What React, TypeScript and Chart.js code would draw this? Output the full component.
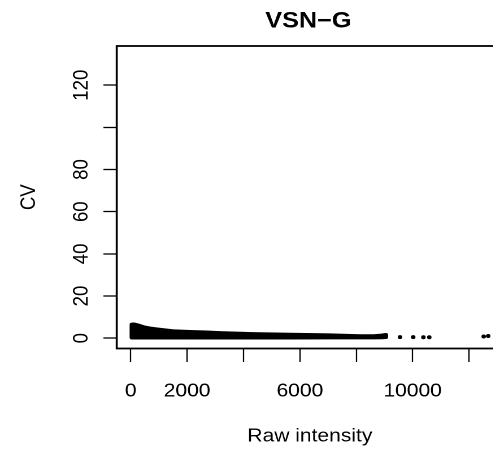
import React, { useEffect, useRef } from 'react';
import { Chart, registerables } from 'chart.js';

Chart.register(...registerables);

// ---------- text ----------
const TITLE = 'VSN−G';
const X_LABEL = 'Raw intensity';
const Y_LABEL = 'CV';

// ---------- axes ----------
const xTicks = [0, 2000, 4000, 6000, 8000, 10000, 12000];
const xTickLabels = ['0', '2000', '', '6000', '', '10000', ''];
const yTicks = [0, 20, 40, 60, 80, 100, 120];
const yTickLabels = ['0', '20', '40', '60', '80', '', '120'];
const xRange = [-497, 13205];
const yRange = [-4.9, 138.6];

// ---------- data ----------
// dense cloud of points: upper and lower envelope of the band
const bandIntensity = [40, 110, 320, 500, 675, 900, 1210, 1560, 2100, 2700, 3160, 4330, 5650, 7070, 8130, 8660, 8900, 9050];
const bandUpperCV = [6.4, 6.5, 5.8, 5.0, 4.6, 4.2, 3.7, 3.2, 2.95, 2.7, 2.4, 1.9, 1.6, 1.3, 0.9, 1.0, 1.2, 1.5];
const bandLowerCV = [0.3, 0.3, 0.3, 0.3, 0.3, 0.3, 0.3, 0.3, 0.3, 0.3, 0.3, 0.3, 0.3, 0.35, 0.35, 0.4, 0.45, 0.55];
// isolated points at high intensity
const sparseIntensity = [9550, 10020, 10380, 10590, 12520, 12680];
const sparseCV = [0.5, 0.5, 0.45, 0.45, 0.8, 1.05];

// ---------- layout ----------
const STRETCH = 1.13; // horizontal aspect of the reference
const CW = 460;
const CH = 454;
const FONT = '"Liberation Sans", Arial, Helvetica, sans-serif';
const FS = 18.6;

const rBasePlugin = {
  id: 'rBase',
  afterDraw(chart: any) {
    const { ctx, chartArea: a } = chart;
    const xs = chart.scales.x;
    const ys = chart.scales.y;
    const cx = (a.left + a.right) / 2;
    const cy = (a.top + a.bottom) / 2;
    ctx.save();
    ctx.strokeStyle = '#000';
    ctx.lineWidth = 1.8;
    ctx.strokeRect(a.left, a.top, a.right - a.left, a.bottom - a.top);

    ctx.fillStyle = '#000';
    ctx.textAlign = 'center';
    ctx.textBaseline = 'alphabetic';
    ctx.font = `${FS}px ${FONT}`;
    xTicks.forEach((v, i) => {
      const t = xTickLabels[i];
      if (t) ctx.fillText(t, xs.getPixelForValue(v), a.bottom + 48.2);
    });
    yTicks.forEach((v, i) => {
      const t = yTickLabels[i];
      if (!t) return;
      ctx.save();
      ctx.translate(a.left - 25.9, ys.getPixelForValue(v));
      ctx.rotate(-Math.PI / 2);
      ctx.fillText(t, 0, 0);
      ctx.restore();
    });
    ctx.fillText(X_LABEL, cx, a.bottom + 93);
    ctx.save();
    ctx.translate(a.left - 72.3, cy);
    ctx.rotate(-Math.PI / 2);
    ctx.fillText(Y_LABEL, 0, 0);
    ctx.restore();

    ctx.font = `bold 22.3px ${FONT}`;
    ctx.fillText(TITLE, cx - 1.3, a.top - 18.3);
    ctx.restore();
  },
};

export default function App() {
  const ref = useRef<HTMLCanvasElement | null>(null);

  useEffect(() => {
    if (!ref.current) return;
    const upper = bandIntensity.map((x, i) => ({ x, y: bandUpperCV[i] }));
    const lower = bandIntensity.map((x, i) => ({ x, y: bandLowerCV[i] })).reverse();
    const band = [...upper, ...lower, upper[0]];
    const sparse = sparseIntensity.map((x, i) => ({ x, y: sparseCV[i] }));

    const chart = new Chart(ref.current, {
      type: 'scatter',
      data: {
        datasets: [
          {
            data: band,
            showLine: true,
            borderColor: '#000',
            backgroundColor: '#000',
            borderWidth: 4,
            borderCapStyle: 'round',
            borderJoinStyle: 'round',
            pointRadius: 0,
            tension: 0,
            fill: 'shape',
          },
          {
            data: sparse,
            showLine: false,
            pointRadius: 2,
            pointBorderWidth: 0,
            pointBackgroundColor: '#000',
            pointBorderColor: '#000',
          },
        ],
      } as any,
      options: {
        animation: false,
        responsive: false,
        devicePixelRatio: 2,
        layout: { padding: { top: 46, left: 0, right: CW - 445.13, bottom: 0 } },
        plugins: {
          legend: { display: false },
          tooltip: { enabled: false },
          title: { display: false },
        },
        scales: {
          x: {
            type: 'linear',
            min: xRange[0],
            max: xRange[1],
            border: { display: false },
            grid: {
              display: true,
              drawOnChartArea: false,
              drawTicks: true,
              tickLength: 13.5,
              tickWidth: 1.15,
              tickColor: '#000',
            },
            ticks: { display: false },
            afterBuildTicks: (s: any) => {
              s.ticks = xTicks.map((v) => ({ value: v }));
            },
            afterFit: (s: any) => {
              s.height = CH - 348.5;
            },
          },
          y: {
            type: 'linear',
            min: yRange[0],
            max: yRange[1],
            border: { display: false },
            grid: {
              display: true,
              drawOnChartArea: false,
              drawTicks: true,
              tickLength: 11.8,
              tickWidth: 1.3,
              tickColor: '#000',
            },
            ticks: { display: false },
            afterBuildTicks: (s: any) => {
              s.ticks = yTicks.map((v) => ({ value: v }));
            },
            afterFit: (s: any) => {
              s.width = 103.3;
            },
          },
        },
      } as any,
      plugins: [rBasePlugin],
    });
    return () => chart.destroy();
  }, []);

  return (
    <div
      style={{
        position: 'absolute',
        left: 0,
        top: 0,
        width: 493,
        height: 454,
        overflow: 'hidden',
        background: '#fff',
      }}
    >
      <canvas
        ref={ref}
        width={CW}
        height={CH}
        style={{
          display: 'block',
          transform: `scaleX(${STRETCH})`,
          transformOrigin: '0 0',
        }}
      />
    </div>
  );
}
